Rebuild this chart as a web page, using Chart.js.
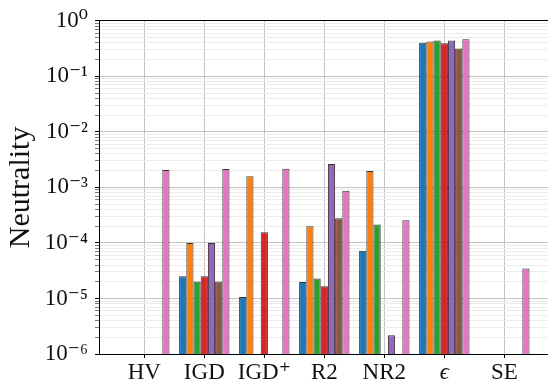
<!DOCTYPE html>
<html>
<head>
<meta charset="utf-8">
<script src="https://cdn.jsdelivr.net/npm/chart.js@4/dist/chart.umd.min.js"></script>
<style>
html,body{margin:0;padding:0;background:#fff;overflow:hidden;}
#wrap{width:548px;height:389px;}
</style>
</head>
<body>
<div id="wrap"><canvas id="c" width="548" height="389"></canvas></div>
<script>
const categories = ['HV', 'IGD', 'IGD⁺', 'R2', 'NR2', 'ϵ', 'SE'];
const yTickLabels = {'-6': '10⁻⁶', '-5': '10⁻⁵', '-4': '10⁻⁴', '-3': '10⁻³', '-2': '10⁻²', '-1': '10⁻¹', '0': '10⁰'};
const yLabel = 'Neutrality';

const blueVals   = [null, 2.5e-5, 1.06e-5, 1.98e-5, 7.2e-5, 0.402, null];
const orangeVals = [null, 1.0e-4, 1.58e-3, 2.0e-4, 1.98e-3, 0.424, null];
const greenVals  = [null, 2.03e-5, null, 2.3e-5, 2.14e-4, 0.442, null];
const redVals    = [null, 2.52e-5, 1.55e-4, 1.66e-5, null, 0.396, null];
const purpleVals = [null, 1.0e-4, null, 2.63e-3, 2.17e-6, 0.442, null];
const brownVals  = [null, 2.03e-5, null, 2.78e-4, null, 0.318, null];
const pinkVals   = [2.06e-3, 2.15e-3, 2.17e-3, 8.73e-4, 2.56e-4, 0.466, 3.45e-5];

const seriesList = [blueVals, orangeVals, greenVals, redVals, purpleVals, brownVals, pinkVals];
const colors = ['#1f77b4', '#ff7f0e', '#2ca02c', '#d62728', '#9467bd', '#8c564b', '#e377c2'];

const FONT = "'Liberation Serif', 'DejaVu Serif', serif";

const datasets = seriesList.map((vals, k) => ({
  label: 'series ' + (k + 1),
  data: vals.map((v, i) => ({x: i, y: v})).filter(p => p.y !== null),
  backgroundColor: colors[k],
  borderColor: 'rgba(0,0,0,0.8)',
  borderWidth: 1,
  borderSkipped: 'bottom',
  categoryPercentage: 0.84,
  barPercentage: 1.0
}));

function isMajor(v) {
  const e = Math.log10(v);
  return Math.abs(e - Math.round(e)) < 1e-9;
}

new Chart(document.getElementById('c'), {
  type: 'bar',
  data: {datasets},
  options: {
    responsive: false,
    animation: false,
    layout: {padding: 0},
    plugins: {legend: {display: false}, tooltip: {enabled: false}},
    scales: {
      x: {
        type: 'linear',
        position: 'bottom',
        min: -0.755,
        max: 6.728,
        offset: false,
        afterBuildTicks: s => { s.ticks = categories.map((_, i) => ({value: i})); },
        afterFit: s => { s.height = 35; },
        ticks: {
          autoSkip: false,
          maxRotation: 0,
          padding: 1,
          color: '#111',
          font: ctx => ({family: FONT, size: 23, style: (ctx.tick && categories[Math.round(ctx.tick.value)] === 'ϵ') ? 'italic' : 'normal'}),
          callback: v => categories[Math.round(v)] ?? ''
        },
        grid: {
          offset: false,
          color: '#c4c4c4',
          lineWidth: 1,
          tickLength: 4,
          tickColor: '#000'
        },
        border: {display: true, color: '#000', width: 1}
      },
      xTop: {
        type: 'linear',
        position: 'top',
        min: 0, max: 1,
        afterFit: s => { s.height = 16; },
        ticks: {display: false},
        grid: {display: false, drawTicks: false},
        border: {display: true, color: '#000', width: 1}
      },
      y: {
        type: 'logarithmic',
        position: 'left',
        min: 1e-6,
        max: 1,
        afterBuildTicks: s => {
          const t = [];
          for (let e = -6; e <= 0; e++) {
            for (let m = 1; m <= 9; m++) {
              const v = m * Math.pow(10, e);
              if (v > 1.0000001) break;
              t.push({value: v, major: m === 1});
            }
          }
          s.ticks = t;
        },
        afterFit: s => { s.width = 99; },
        ticks: {
          autoSkip: false,
          padding: 7,
          color: '#111',
          font: {family: FONT, size: 23},
          callback: v => isMajor(v) ? yTickLabels[String(Math.round(Math.log10(v)))] : ''
        },
        grid: {
          color: ctx => (ctx.tick && isMajor(ctx.tick.value)) ? '#c4c4c4' : '#ececec',
          lineWidth: 1,
          tickLength: 4,
          tickColor: ctx => (ctx.tick && isMajor(ctx.tick.value)) ? '#000' : '#444',
          tickWidth: ctx => (ctx.tick && isMajor(ctx.tick.value)) ? 1 : 0.7
        },
        border: {display: true, color: '#000', width: 1},
        title: {
          display: true,
          text: yLabel,
          color: '#111',
          font: {family: FONT, size: 30},
          padding: {top: 3, bottom: 0}
        }
      }
    }
  }
});
</script>
</body>
</html>
